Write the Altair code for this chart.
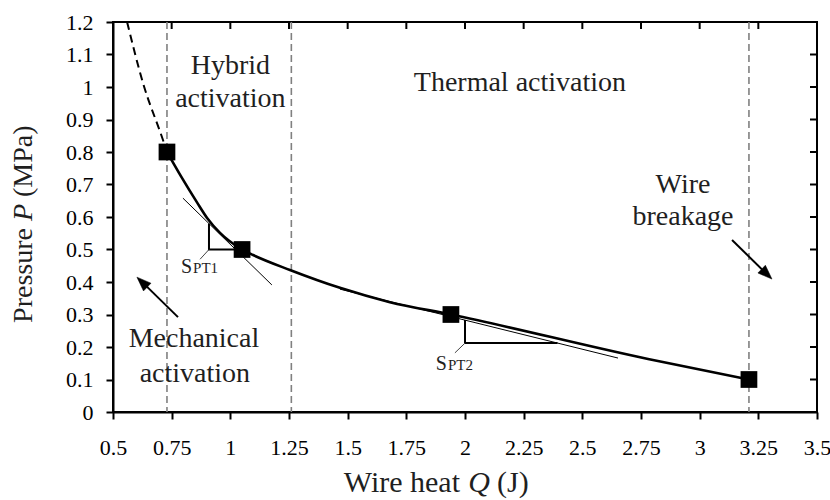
import altair as alt
import pandas as pd

FONT = "Liberation Serif"
INK = "#000000"
TEXT_INK = "#1f1f1f"
GRID_GRAY = "#808080"

W, H = 704, 390

# Axis ticks
x_ticks = [0.5, 0.75, 1.0, 1.25, 1.5, 1.75, 2.0, 2.25, 2.5, 2.75, 3.0, 3.25, 3.5]
y_ticks = [0.0, 0.1, 0.2, 0.3, 0.4, 0.5, 0.6, 0.7, 0.8, 0.9, 1.0, 1.1, 1.2]

# Operating points: wire heat Q (J) vs pressure P (MPa)
point_q = [0.73, 1.05, 1.94, 3.21]
point_p = [0.80, 0.50, 0.30, 0.10]

# Fitted pressure curve through the operating points
curve_q = [0.73, 0.79, 0.858, 0.901, 0.956, 1.05, 1.097, 1.254, 1.467, 1.68, 1.94, 2.78, 3.21]
curve_p = [0.80, 0.725, 0.645, 0.597, 0.551, 0.50, 0.483, 0.437, 0.382, 0.338, 0.30, 0.163, 0.10]

# Extrapolated branch above the first point
ext_q = [0.56, 0.628, 0.713, 0.73]
ext_p = [1.20, 1.012, 0.837, 0.80]

# Boundaries between activation regimes
bound_q = [0.73, 1.26, 3.21]

# Tangent lines at the two slope points
tan_seg = ["t1", "t1", "t2", "t2"]
tan_q = [0.798, 1.177, 1.467, 2.652]
tan_p = [0.658, 0.391, 0.378, 0.166]

# Slope triangles
tri_seg = ["s1", "s1", "s1", "s2", "s2", "s2"]
tri_ord = [0, 1, 2, 0, 1, 2]
tri_q = [0.909, 0.909, 1.022, 2.0, 2.0, 2.394]
tri_p = [0.580, 0.500, 0.500, 0.283, 0.212, 0.212]

# Leader lines from the triangles to their labels
lead_seg = ["l1", "l1", "l2", "l2"]
lead_q = [0.909, 0.871, 2.0, 1.957]
lead_p = [0.500, 0.470, 0.212, 0.182]

# Slope labels S_PT1 / S_PT2
slope_main = ["S", "S"]
slope_sub = ["PT1", "PT2"]
slope_q = [0.837, 1.923]
slope_p = [0.428, 0.129]

# Region annotations
note_text = ["Hybrid", "activation", "Thermal activation", "Wire", "breakage",
             "Mechanical", "activation"]
note_q = [1.0, 1.0, 2.234, 2.929, 2.929, 0.845, 0.849]
note_p = [1.04, 0.938, 0.988, 0.674, 0.575, 0.20, 0.092]

# Arrows: shaft from tail to head base, head at tip
arrow_seg = ["a1", "a1", "a2", "a2"]
arrow_q = [0.777, 0.627, 3.138, 3.284]
arrow_p = [0.292, 0.398, 0.529, 0.426]
tip_q = [0.602, 3.308]
tip_p = [0.415, 0.409]
tip_angle = [314, 134]

xs = alt.Scale(domain=[0.5, 3.5], nice=False, zero=False)
ys = alt.Scale(domain=[0, 1.2], nice=False, zero=False)

x_axis = alt.Axis(values=x_ticks, format=".2~f", title=None, grid=False,
                  labelFont=FONT, labelFontSize=22, labelColor=INK,
                  tickColor=INK, tickWidth=2, tickSize=7, labelPadding=18,
                  domainColor=INK, domainWidth=2, labelOverlap=False, labelFlush=False)
y_axis = alt.Axis(values=y_ticks, format=".1~f", title=None, grid=False,
                  labelFont=FONT, labelFontSize=22, labelColor=INK,
                  tickColor=INK, tickWidth=2, tickSize=7, labelPadding=13,
                  domainColor=INK, domainWidth=2, labelOverlap=False, labelFlush=False)


def X(field="q"):
    return alt.X(f"{field}:Q", scale=xs, axis=x_axis)


def Y(field="p"):
    return alt.Y(f"{field}:Q", scale=ys, axis=y_axis)


points = pd.DataFrame({"q": point_q, "p": point_p})
curve = pd.DataFrame({"q": curve_q, "p": curve_p})
ext = pd.DataFrame({"q": ext_q, "p": ext_p})
bounds = pd.DataFrame({"q": bound_q})
tangents = pd.DataFrame({"seg": tan_seg, "q": tan_q, "p": tan_p})
triangles = pd.DataFrame({"seg": tri_seg, "o": tri_ord, "q": tri_q, "p": tri_p})
leaders = pd.DataFrame({"seg": lead_seg, "q": lead_q, "p": lead_p})
slopes = pd.DataFrame({"main": slope_main, "sub": slope_sub, "q": slope_q, "p": slope_p})
notes = pd.DataFrame({"label": note_text, "q": note_q, "p": note_p})
shafts = pd.DataFrame({"seg": arrow_seg, "q": arrow_q, "p": arrow_p})
tips = pd.DataFrame({"q": tip_q, "p": tip_p, "ang": tip_angle})
xt = pd.DataFrame({"q": x_ticks})
yt = pd.DataFrame({"p": y_ticks})

boundary_layer = alt.Chart(bounds).mark_rule(
    color=GRID_GRAY, strokeWidth=1.6, strokeDash=[7, 4]
).encode(x=X())

ext_layer = alt.Chart(ext).mark_line(
    color=INK, strokeWidth=2, strokeDash=[8, 5], interpolate="monotone"
).encode(x=X(), y=Y())

curve_layer = alt.Chart(curve).mark_line(
    color=INK, strokeWidth=2.6, interpolate="monotone"
).encode(x=X(), y=Y())

tangent_layer = alt.Chart(tangents).mark_line(
    color=INK, strokeWidth=1
).encode(x=X(), y=Y(), detail="seg:N")

triangle_layer = alt.Chart(triangles).mark_line(
    color=INK, strokeWidth=2
).encode(x=X(), y=Y(), detail="seg:N", order="o:Q")

leader_layer = alt.Chart(leaders).mark_line(
    color="#444444", strokeWidth=1
).encode(x=X(), y=Y(), detail="seg:N")

shaft_layer = alt.Chart(shafts).mark_line(
    color=INK, strokeWidth=2
).encode(x=X(), y=Y(), detail="seg:N")

tip_layer = alt.Chart(tips).mark_point(
    shape="M0,0L-0.6,1.6L0.6,1.6Z", filled=True, fill=INK, stroke=INK,
    strokeWidth=0.5, size=320, opacity=1
).encode(x=X(), y=Y(), angle=alt.Angle("ang:Q", scale=None))

point_layer = alt.Chart(points).mark_square(
    color=INK, size=280, opacity=1
).encode(x=X(), y=Y())

note_layer = alt.Chart(notes).mark_text(
    font=FONT, fontSize=28, color=TEXT_INK, align="center", baseline="alphabetic"
).encode(x=X(), y=Y(), text="label:N")

slope_main_layer = alt.Chart(slopes).mark_text(
    font=FONT, fontSize=20, color=TEXT_INK, align="right", baseline="alphabetic"
).encode(x=X(), y=Y(), text="main:N")

slope_sub_layer = alt.Chart(slopes).mark_text(
    font=FONT, fontSize=15, color=TEXT_INK, align="left", baseline="alphabetic", dx=1
).encode(x=X(), y=Y(), text="sub:N")

# Inward ticks on the top and right frame edges
top_ticks = alt.Chart(xt).mark_rule(color=INK, strokeWidth=2).encode(
    x=X(), y=alt.value(0), y2=alt.value(7)
)
right_ticks = alt.Chart(yt).mark_rule(color=INK, strokeWidth=2).encode(
    y=Y(), x=alt.value(W), x2=alt.value(W - 7)
)


def pixel_text(label, px, py, **kw):
    return alt.Chart(pd.DataFrame({"label": [label]})).mark_text(
        font=FONT, color=TEXT_INK, baseline="alphabetic", **kw
    ).encode(text="label:N", x=alt.value(px), y=alt.value(py))


# Axis titles with italic variable symbols
x_title = [
    pixel_text("Wire heat", 347, 470, fontSize=30, align="right"),
    pixel_text("Q", 366, 470, fontSize=30, align="center", fontStyle="italic"),
    pixel_text("(J)", 384, 470, fontSize=30, align="left"),
]
y_title = [
    pixel_text("Pressure", -81, 206, fontSize=28, align="right", angle=270),
    pixel_text("P", -81, 190.5, fontSize=28, align="center", angle=270, fontStyle="italic"),
    pixel_text("(MPa)", -81, 175, fontSize=28, align="left", angle=270),
]

chart = alt.layer(
    boundary_layer,
    ext_layer,
    tangent_layer,
    triangle_layer,
    leader_layer,
    curve_layer,
    shaft_layer,
    tip_layer,
    point_layer,
    note_layer,
    slope_main_layer,
    slope_sub_layer,
    top_ticks,
    right_ticks,
    *x_title,
    *y_title,
).properties(
    width=W,
    height=H,
    autosize=alt.AutoSizeParams(type="none"),
    padding={"left": 113, "top": 22, "right": 13, "bottom": 88},
    background="white",
).configure_view(
    stroke=INK, strokeWidth=2
)

chart.save("out.html", embed_options={"renderer": "svg", "actions": False})
